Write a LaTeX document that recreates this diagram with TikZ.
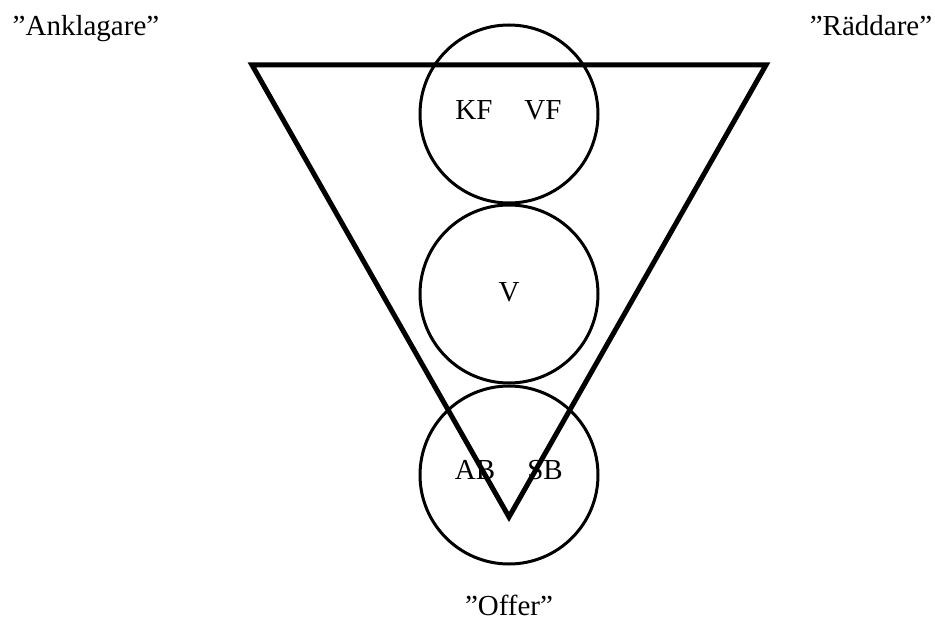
\documentclass[tikz,border=0pt]{standalone}
\usepackage{fontspec}
\setmainfont{Liberation Serif}
\begin{document}
\begin{tikzpicture}[x=1pt,y=-1pt,
  lbl/.style={inner sep=0pt,anchor=base,font=\fontsize{29}{34}\selectfont},
  circ/.style={draw,circle,line width=3pt,minimum size=178pt,inner sep=0pt},
  tri/.style={line width=5pt,line join=miter}]
\useasboundingbox (0,0) rectangle (935,636);
\node[circ] (c1) at (509,114) {};
\node[circ] (c2) at (509,294) {};
\node[circ] (c3) at (509,475) {};
\coordinate (tl) at (252,65);
\coordinate (tr) at (766,65);
\coordinate (bt) at (509,517);
\draw[tri] (tl) -- (tr) -- (bt) -- cycle;
\node[lbl] (ank) at (86,36) {”Anklagare”};
\node[lbl] (rad) at (871,36) {”Räddare”};
\node[lbl] (off) at (509,615) {”Offer”};
\node[lbl] (kf) at (474,120) {KF};
\node[lbl] (vf) at (543,120) {VF};
\node[lbl] (v) at (509,302) {V};
\node[lbl] (ab) at (475,479) {AB};
\node[lbl] (sb) at (545,479) {SB};
\end{tikzpicture}
\end{document}
